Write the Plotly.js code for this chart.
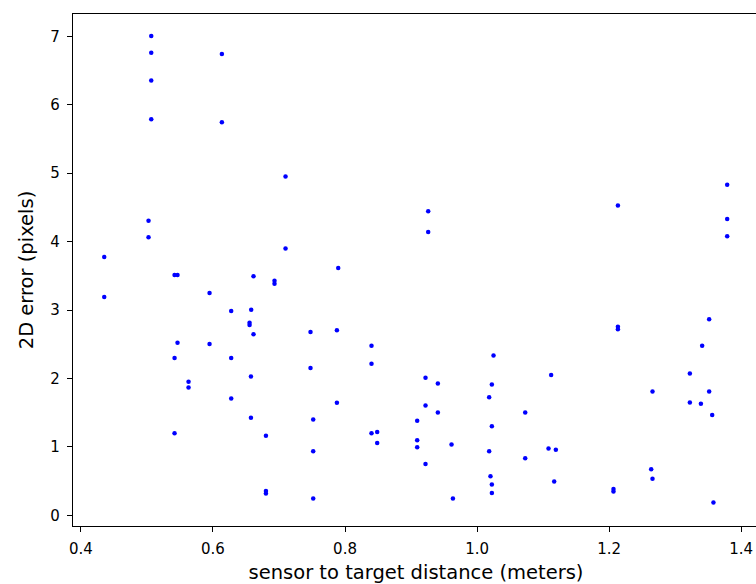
<!DOCTYPE html>
<html>
<head>
<meta charset="utf-8">
<script src="https://cdn.plot.ly/plotly-3.0.1.min.js"></script>
<style>
html,body{margin:0;padding:0;overflow:hidden;background:#fff;}
#chart{width:762px;height:584px;}
</style>
</head>
<body>
<div id="chart"></div>
<script>
const distance = [
  0.4353, 0.4353, 0.5024, 0.5024, 0.5065, 0.5065, 0.5065, 0.5065, 0.5418, 0.5463,
  0.5463, 0.5418, 0.5418, 0.563, 0.563, 0.5948, 0.5948, 0.6135, 0.6135, 0.6276,
  0.6276, 0.6276, 0.6579, 0.6554, 0.6554, 0.6614, 0.6614, 0.6575, 0.6575, 0.6802,
  0.6802, 0.6802, 0.6932, 0.6932, 0.7099, 0.7099, 0.7477, 0.7477, 0.7518, 0.7518,
  0.7518, 0.7877, 0.7877, 0.7897, 0.8401, 0.8401, 0.8401, 0.8487, 0.8487, 0.9093,
  0.9093, 0.9093, 0.9219, 0.9219, 0.9219, 0.926, 0.926, 0.9406, 0.9406, 0.9613,
  0.9634, 1.0249, 1.0224, 1.0183, 1.0224, 1.0183, 1.0203, 1.0224, 1.0224, 1.0729,
  1.0729, 1.1122, 1.1082, 1.1193, 1.1168, 1.2133, 1.2133, 1.2133, 1.2066, 1.2066,
  1.2637, 1.2657, 1.2657, 1.3223, 1.3223, 1.339, 1.3409, 1.3515, 1.3515, 1.3561,
  1.358, 1.3788, 1.3788, 1.3788
];
const error2d = [
  3.776, 3.19, 4.307, 4.064, 7.006, 6.761, 6.356, 5.79, 3.512, 3.512,
  2.522, 2.298, 1.2, 1.951, 1.869, 3.249, 2.503, 6.742, 5.747, 2.986,
  2.298, 1.708, 3.005, 2.814, 2.781, 2.645, 3.493, 2.03, 1.424, 1.161,
  0.356, 0.318, 3.429, 3.385, 4.951, 3.9, 2.678, 2.151, 1.4, 0.937,
  0.244, 2.703, 1.644, 3.615, 2.478, 2.214, 1.2, 1.219, 1.058, 1.38,
  1.098, 0.995, 2.01, 1.605, 0.751, 4.445, 4.142, 1.927, 1.503, 1.035,
  0.244, 2.337, 1.913, 1.727, 1.302, 0.937, 0.571, 0.449, 0.326, 1.503,
  0.834, 2.049, 0.976, 0.956, 0.493, 4.527, 2.756, 2.718, 0.385, 0.347,
  0.673, 0.532, 1.81, 2.074, 1.649, 1.629, 2.478, 2.864, 1.81, 1.464,
  0.186, 4.83, 4.33, 4.079
];
const xTicks = [0.4, 0.6, 0.8, 1.0, 1.2, 1.4];
const xTickLabels = ["0.4", "0.6", "0.8", "1.0", "1.2", "1.4"];
const yTicks = [0, 1, 2, 3, 4, 5, 6, 7];
const yTickLabels = ["0", "1", "2", "3", "4", "5", "6", "7"];

const tickFont = {family: "DejaVu Sans, sans-serif", size: 15, color: "#000"};
const titleFont = {family: "DejaVu Sans, sans-serif", size: 19.5, color: "#000"};

Plotly.newPlot("chart", [{
  x: distance,
  y: error2d,
  type: "scatter",
  mode: "markers",
  marker: {color: "#0000ff", size: 4.5, line: {width: 0}},
  hoverinfo: "x+y"
}], {
  width: 762,
  height: 584,
  margin: {l: 73, r: 3, t: 14, b: 58, pad: 0},
  paper_bgcolor: "#fff",
  plot_bgcolor: "#fff",
  showlegend: false,
  font: tickFont,
  xaxis: {
    range: [0.388, 1.427],
    tickvals: xTicks,
    ticktext: xTickLabels,
    ticks: "outside",
    ticklen: 5,
    tickwidth: 1,
    tickcolor: "#000",
    ticklabelstandoff: 4,
    showline: true,
    linecolor: "#000",
    linewidth: 1.2,
    mirror: true,
    showgrid: false,
    zeroline: false,
    automargin: false,
    tickfont: tickFont,
    title: {text: "sensor to target distance (meters)", font: titleFont, standoff: 9}
  },
  yaxis: {
    range: [-0.157, 7.328],
    tickvals: yTicks,
    ticktext: yTickLabels,
    ticks: "outside",
    ticklen: 5,
    tickwidth: 1,
    tickcolor: "#000",
    ticklabelstandoff: 4,
    showline: true,
    linecolor: "#000",
    linewidth: 1.2,
    mirror: true,
    showgrid: false,
    zeroline: false,
    automargin: false,
    tickfont: tickFont,
    title: {text: "2D error (pixels)", font: titleFont, standoff: 11}
  }
}, {displayModeBar: false, staticPlot: true});
</script>
</body>
</html>
